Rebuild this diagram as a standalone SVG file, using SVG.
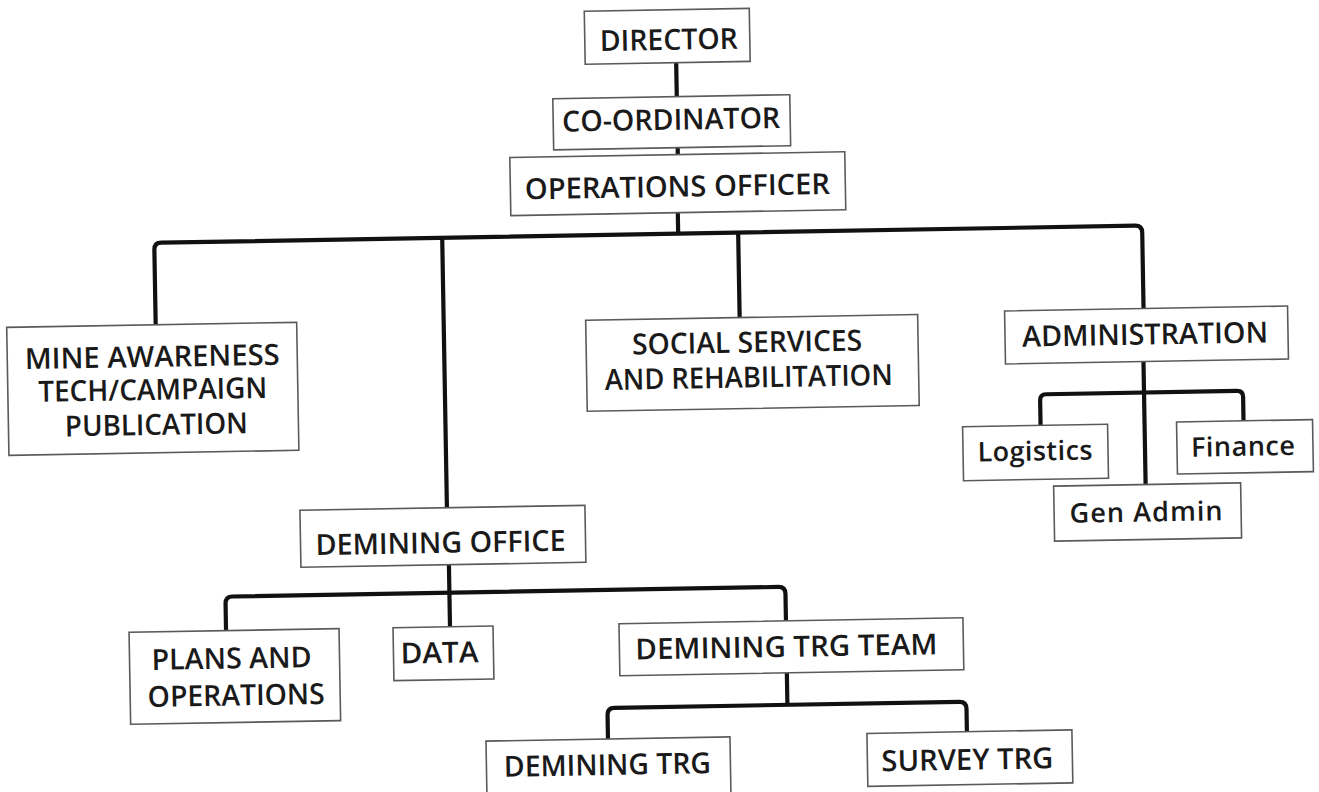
<svg xmlns="http://www.w3.org/2000/svg" width="1319" height="792" viewBox="0 0 1319 792">
  <style>
    .box { fill: #ffffff; stroke: #5a5a5a; stroke-width: 1.6; }
    .lbl { font-family: "Open Sans", "Liberation Sans", sans-serif; font-size: 29px; font-weight: 600; fill: #1a1a1a; text-anchor: middle; }
    .low { font-size: 27px; }
    .conn { fill: none; stroke: #111111; stroke-width: 4.2; stroke-linejoin: round; stroke-linecap: butt; }
  </style>
  <rect width="1319" height="792" fill="#ffffff"/>
  <!-- the whole chart sits about one degree off level -->
  <g transform="rotate(-1 660 396)">
    <g id="connectors">
      <path class="conn" d="M682 63 V97"/>
      <path class="conn" d="M682 148 V155"/>
      <path class="conn" d="M681 213 V234"/>
      <path class="conn" d="M157 316 V241 Q157 234 164 234 H1138 Q1145 234 1145 241 V317"/>
      <path class="conn" d="M445 234 V504"/>
      <path class="conn" d="M741 234 V319"/>
      <path class="conn" d="M446 561 V623"/>
      <path class="conn" d="M222 623 V596 Q222 589 229 589 H775 Q782 589 782 596 V623"/>
      <path class="conn" d="M782 675 V707"/>
      <path class="conn" d="M602 738 V714 Q602 707 609 707 H954 Q961 707 961 714 V737"/>
      <path class="conn" d="M1144 370 V493"/>
      <path class="conn" d="M1040 432 V407 Q1040 401 1046 401 H1237 Q1243 401 1243 407 V431"/>
    </g>

    <g id="director">
      <rect class="box" x="591" y="10" width="165" height="53"/>
      <text class="lbl" x="675" y="50" textLength="138" lengthAdjust="spacingAndGlyphs">DIRECTOR</text>
    </g>
    <g id="coordinator">
      <rect class="box" x="558" y="97" width="237" height="51"/>
      <text class="lbl" x="676" y="130" textLength="218" lengthAdjust="spacingAndGlyphs">CO-ORDINATOR</text>
    </g>
    <g id="operations-officer">
      <rect class="box" x="514" y="155" width="335" height="58"/>
      <text class="lbl" x="681" y="197" textLength="305" lengthAdjust="spacingAndGlyphs">OPERATIONS OFFICER</text>
    </g>
    <g id="mine-awareness">
      <rect class="box" x="8" y="316" width="290" height="128"/>
      <text class="lbl" x="153" y="358" textLength="255" lengthAdjust="spacingAndGlyphs">MINE AWARENESS</text>
      <text class="lbl" x="153" y="391" textLength="229" lengthAdjust="spacingAndGlyphs">TECH/CAMPAIGN</text>
      <text class="lbl" x="156" y="426" textLength="183" lengthAdjust="spacingAndGlyphs">PUBLICATION</text>
    </g>
    <g id="social-services">
      <rect class="box" x="587" y="319" width="332" height="91"/>
      <text class="lbl" x="748" y="354" textLength="230" lengthAdjust="spacingAndGlyphs">SOCIAL SERVICES</text>
      <text class="lbl" x="749" y="389" textLength="288" lengthAdjust="spacingAndGlyphs">AND REHABILITATION</text>
    </g>
    <g id="administration">
      <rect class="box" x="1006" y="317" width="283" height="53"/>
      <text class="lbl" x="1146" y="353" textLength="246" lengthAdjust="spacingAndGlyphs">ADMINISTRATION</text>
    </g>
    <g id="logistics">
      <rect class="box" x="962" y="432" width="145" height="54"/>
      <text class="lbl low" x="1034" y="467" textLength="115" lengthAdjust="spacing">Logistics</text>
    </g>
    <g id="finance">
      <rect class="box" x="1176" y="431" width="136" height="52"/>
      <text class="lbl low" x="1242" y="466" textLength="104" lengthAdjust="spacing">Finance</text>
    </g>
    <g id="gen-admin">
      <rect class="box" x="1052" y="493" width="187" height="55"/>
      <text class="lbl low" x="1144" y="530" textLength="153" lengthAdjust="spacing">Gen Admin</text>
    </g>
    <g id="demining-office">
      <rect class="box" x="298" y="504" width="285" height="57"/>
      <text class="lbl" x="438" y="549" textLength="250" lengthAdjust="spacingAndGlyphs">DEMINING OFFICE</text>
    </g>
    <g id="plans-operations">
      <rect class="box" x="125" y="623" width="210" height="92"/>
      <text class="lbl" x="227" y="661" textLength="160" lengthAdjust="spacingAndGlyphs">PLANS AND</text>
      <text class="lbl" x="231" y="698" textLength="177" lengthAdjust="spacingAndGlyphs">OPERATIONS</text>
    </g>
    <g id="data">
      <rect class="box" x="389" y="623" width="100" height="53"/>
      <text class="lbl" x="435" y="659" textLength="78" lengthAdjust="spacingAndGlyphs">DATA</text>
    </g>
    <g id="demining-trg-team">
      <rect class="box" x="615" y="623" width="344" height="52"/>
      <text class="lbl" x="782" y="659" textLength="302" lengthAdjust="spacingAndGlyphs">DEMINING TRG TEAM</text>
    </g>
    <g id="demining-trg">
      <rect class="box" x="480" y="738" width="244" height="56"/>
      <text class="lbl" x="601" y="774" textLength="207" lengthAdjust="spacingAndGlyphs">DEMINING TRG</text>
    </g>
    <g id="survey-trg">
      <rect class="box" x="861" y="737" width="205" height="53"/>
      <text class="lbl" x="961" y="775" textLength="172" lengthAdjust="spacingAndGlyphs">SURVEY TRG</text>
    </g>
  </g>
</svg>
